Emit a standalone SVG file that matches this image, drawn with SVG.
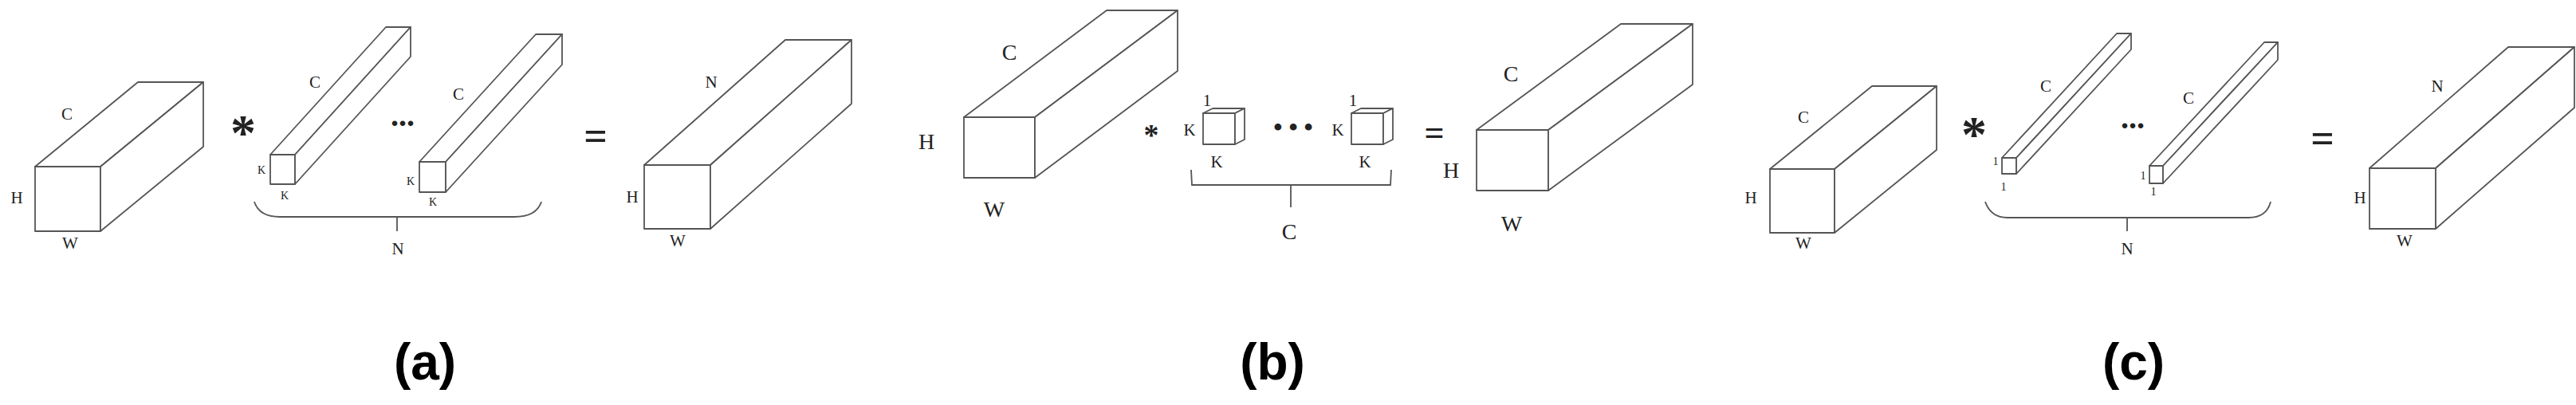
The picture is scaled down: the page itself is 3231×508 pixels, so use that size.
<svg xmlns="http://www.w3.org/2000/svg" width="3231" height="508" viewBox="0 0 3231 508">
<style>
.b{fill:#fff;stroke:#555;stroke-width:1.8;stroke-linejoin:round}
.l{fill:none;stroke:#555;stroke-width:1.8}
text{font-family:"Liberation Serif",serif;fill:#222;text-anchor:middle}
.s{font-size:21px}.m{font-size:28px}.t{font-size:14px}
.op{font-size:52px;font-weight:bold}
.cap{font-family:"Liberation Sans",sans-serif;font-size:64px;font-weight:bold;fill:#000}
</style>
<rect width="3231" height="508" fill="#fff"/>
<g id="a-input">
<rect class="b" x="44" y="209" width="82" height="81"/>
<polygon class="b" points="44,209 126,209 255,103 173,103"/>
<polygon class="b" points="126,209 255,103 255,184 126,290"/>
<text class="s" x="84" y="150">C</text><text class="s" x="21" y="255">H</text><text class="s" x="88" y="312">W</text>
</g>
<g id="a-filter1">
<rect class="b" x="339" y="194" width="31" height="37"/>
<polygon class="b" points="339,194 370,194 515,34 484,34"/>
<polygon class="b" points="370,194 515,34 515,71 370,231"/>
<text class="t" x="328" y="218">K</text><text class="t" x="357" y="250">K</text><text class="s" x="395" y="110">C</text>
</g>
<g id="a-filter2">
<rect class="b" x="526" y="203" width="33" height="38"/>
<polygon class="b" points="526,203 559,203 705,43 672,43"/>
<polygon class="b" points="559,203 705,43 705,81 559,241"/>
<text class="t" x="515" y="232">K</text><text class="t" x="543" y="258">K</text><text class="s" x="575" y="125">C</text>
</g>
<g id="a-ops">
<text class="op" x="305" y="188" style="font-size:64px">*</text>
<text class="op" x="505" y="158" style="font-size:40px">...</text>
<text class="op" x="747" y="188">=</text>
</g>
<g id="a-output">
<rect class="b" x="808" y="207" width="83" height="80"/>
<polygon class="b" points="808,207 891,207 1068,50 985,50"/>
<polygon class="b" points="891,207 1068,50 1068,130 891,287"/>
<text class="s" x="892" y="110">N</text><text class="s" x="793" y="254">H</text><text class="s" x="850" y="309">W</text>
</g>
<g id="b-input">
<rect class="b" x="1209" y="147" width="89" height="76"/>
<polygon class="b" points="1209,147 1298,147 1477,13 1388,13"/>
<polygon class="b" points="1298,147 1477,13 1477,89 1298,223"/>
<text class="m" x="1266" y="75">C</text><text class="m" x="1162" y="187">H</text><text class="m" x="1247" y="272">W</text>
</g>
<g id="b-kernel1">
<rect class="b" x="1509" y="142" width="40" height="39"/>
<polygon class="b" points="1509,142 1549,142 1561,136 1521,136"/>
<polygon class="b" points="1549,142 1561,136 1561,175 1549,181"/>
<text class="s" x="1514" y="133">1</text><text class="s" x="1492" y="170">K</text><text class="s" x="1526" y="210">K</text>
</g>
<g id="b-kernel2">
<rect class="b" x="1695" y="142" width="40" height="39"/>
<polygon class="b" points="1695,142 1735,142 1747,136 1707,136"/>
<polygon class="b" points="1735,142 1747,136 1747,175 1735,181"/>
<text class="s" x="1697" y="133">1</text><text class="s" x="1678" y="170">K</text><text class="s" x="1712" y="210">K</text>
</g>
<g id="b-ops">
<text class="op" x="1444" y="182" style="font-size:38px">*</text>
<text class="m" x="1622" y="170" style="font-size:32px;font-weight:bold">• • •</text>
<text class="op" x="1799" y="181" style="font-size:44px">=</text>
</g>
<g id="b-output">
<rect class="b" x="1852" y="163" width="90" height="76"/>
<polygon class="b" points="1852,163 1942,163 2123,30 2033,30"/>
<polygon class="b" points="1942,163 2123,30 2123,106 1942,239"/>
<text class="m" x="1895" y="102">C</text><text class="m" x="1820" y="223">H</text><text class="m" x="1896" y="290">W</text>
</g>
<g id="c-input">
<rect class="b" x="2220" y="212" width="81" height="80"/>
<polygon class="b" points="2220,212 2301,212 2429,108 2348,108"/>
<polygon class="b" points="2301,212 2429,108 2429,188 2301,292"/>
<text class="s" x="2262" y="154">C</text><text class="s" x="2196" y="255">H</text><text class="s" x="2262" y="312">W</text>
</g>
<g id="c-filter1">
<rect class="b" x="2511" y="198" width="18" height="20"/>
<polygon class="b" points="2511,198 2529,198 2673,42 2655,42"/>
<polygon class="b" points="2529,198 2673,42 2673,62 2529,218"/>
<text class="t" x="2503" y="207">1</text><text class="t" x="2513" y="239">1</text><text class="s" x="2566" y="115">C</text>
</g>
<g id="c-filter2">
<rect class="b" x="2696" y="208" width="17" height="22"/>
<polygon class="b" points="2696,208 2713,208 2857,53 2840,53"/>
<polygon class="b" points="2713,208 2857,53 2857,75 2713,230"/>
<text class="t" x="2688" y="225">1</text><text class="t" x="2701" y="245">1</text><text class="s" x="2745" y="130">C</text>
</g>
<g id="c-ops">
<text class="op" x="2476" y="190" style="font-size:64px">*</text>
<text class="op" x="2675" y="161" style="font-size:40px">...</text>
<text class="op" x="2913" y="191">=</text>
</g>
<g id="c-output">
<rect class="b" x="2972" y="211" width="83" height="76"/>
<polygon class="b" points="2972,211 3055,211 3229,59 3146,59"/>
<polygon class="b" points="3055,211 3229,59 3229,135 3055,287"/>
<text class="s" x="3057" y="115">N</text><text class="s" x="2960" y="255">H</text><text class="s" x="3016" y="309">W</text>
</g>
<g id="connectors">
<path class="l" d="M319,253 Q325,272 351,272 L645,272 Q673,272 679,253 M498,272 L498,290"/>
<path class="l" d="M1494,213 L1495,232 L1744,232 L1745,213 M1619,232 L1619,260"/>
<path class="l" d="M2490,253 Q2497,273 2518,273 L2820,273 Q2843,273 2848,253 M2668,273 L2668,290"/>
</g>
<g id="captions">
<text class="s" x="499" y="319">N</text>
<text class="m" x="1617" y="300">C</text>
<text class="s" x="2668" y="319">N</text>
<text class="cap" x="533" y="476">(a)</text>
<text class="cap" x="1596" y="476">(b)</text>
<text class="cap" x="2676" y="476">(c)</text>
</g>
</svg>
